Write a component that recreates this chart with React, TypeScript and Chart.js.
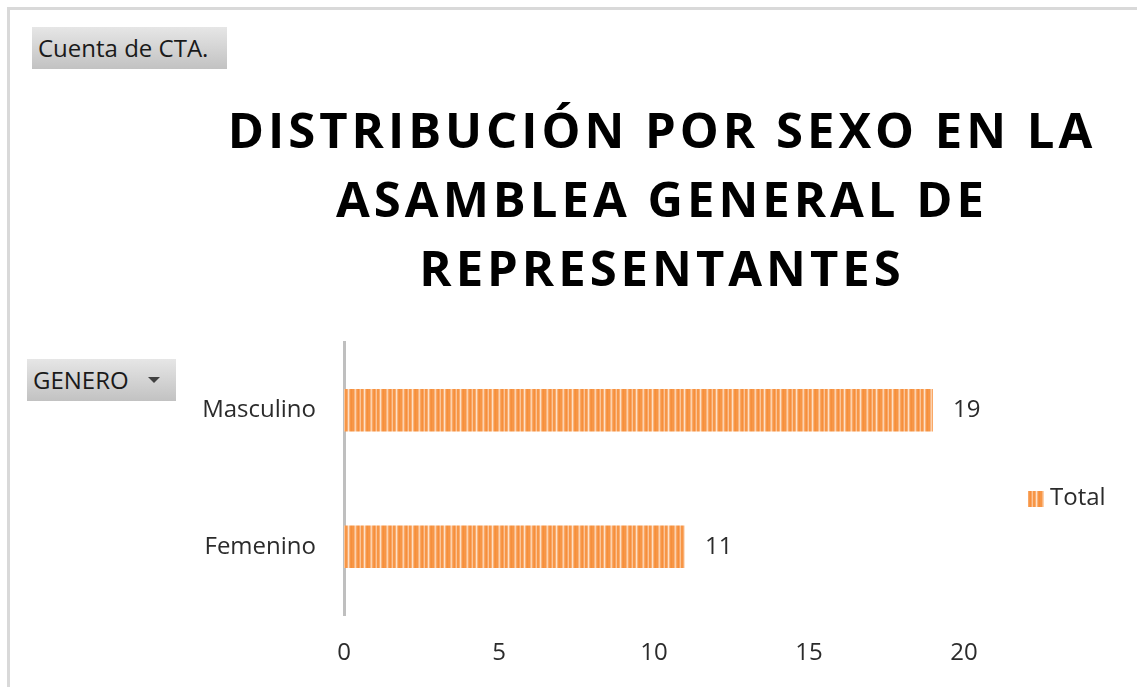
import React, { useEffect, useRef } from "react";
import { Chart, registerables } from "chart.js";

Chart.register(...registerables);

const categories = ["Masculino", "Femenino"];
const totals = [19, 11];
const seriesLabel = "Total";
const xTickValues = [0, 5, 10, 15, 20];
const titleLines = ["DISTRIBUCIÓN POR SEXO EN LA", "ASAMBLEA GENERAL DE", "REPRESENTANTES"];
const pivotValueButton = "Cuenta de CTA.";
const pivotRowButton = "GENERO";

const FONT = '"Open Sans", "Noto Sans", sans-serif';
const TEXT = "#2b2b2b";
const SPACING = 4.0;

function makeStripePattern(): CanvasPattern | string {
  const c = document.createElement("canvas");
  const cols = [
    "#f79646", "#f79646", "#fab57e", "#fcd2ae", "#f9a867", "#f79646",
    "#f68f3b", "#f9a566", "#fbc597", "#f79646", "#f79646", "#f9ad71",
    "#fde1c8", "#f9b47c", "#f79646", "#f68f3b",
  ];
  c.width = cols.length;
  c.height = 4;
  const g = c.getContext("2d");
  if (!g) return "#f79646";
  cols.forEach((col, i) => {
    g.fillStyle = col;
    g.fillRect(i, 0, 1, 4);
  });
  const p = g.createPattern(c, "repeat");
  return p || "#f79646";
}

const titlePlugin = {
  id: "letterSpacedTitle",
  afterDraw(chart: any) {
    const ctx = chart.ctx;
    ctx.save();
    ctx.font = `bold 49px ${FONT}`;
    (ctx as any).letterSpacing = `${SPACING}px`;
    ctx.fillStyle = "#000000";
    ctx.textAlign = "left";
    ctx.textBaseline = "alphabetic";
    const baselines = [148, 217, 286];
    titleLines.forEach((line, i) => {
      const w = ctx.measureText(line).width - SPACING;
      ctx.fillText(line, 660 - w / 2, baselines[i]);
    });
    ctx.restore();
  },
};

const valueLabelPlugin = {
  id: "valueLabels",
  afterDatasetsDraw(chart: any) {
    const ctx = chart.ctx;
    const meta = chart.getDatasetMeta(0);
    ctx.save();
    ctx.font = `24px ${FONT}`;
    ctx.fillStyle = TEXT;
    ctx.textAlign = "left";
    ctx.textBaseline = "middle";
    meta.data.forEach((bar: any, i: number) => {
      const v = chart.data.datasets[0].data[i];
      ctx.fillText(String(v), bar.x + 20, bar.y);
    });
    ctx.restore();
  },
};

const legendPlugin = {
  id: "sideLegend",
  afterDraw(chart: any) {
    const ctx = chart.ctx;
    const ds = chart.data.datasets[0];
    ctx.save();
    ctx.fillStyle = ds.backgroundColor;
    ctx.fillRect(1028, 491, 16, 16);
    ctx.font = `24px ${FONT}`;
    ctx.fillStyle = TEXT;
    ctx.textAlign = "left";
    ctx.textBaseline = "middle";
    ctx.fillText(ds.label, 1050, 498);
    ctx.restore();
  },
};

export default function App() {
  const ref = useRef<HTMLCanvasElement | null>(null);

  useEffect(() => {
    if (!ref.current) return;
    const pattern = makeStripePattern();
    const chart = new Chart(ref.current, {
      type: "bar",
      data: {
        labels: categories,
        datasets: [
          {
            label: seriesLabel,
            data: totals,
            backgroundColor: pattern as any,
            borderWidth: 0,
            categoryPercentage: 1,
            barPercentage: 0.31,
          },
        ],
      },
      options: {
        indexAxis: "y",
        responsive: false,
        animation: false,
        layout: { padding: { top: 342, right: 173, bottom: 0, left: 0 } },
        plugins: {
          legend: { display: false },
          tooltip: { enabled: false },
          title: { display: false },
        },
        scales: {
          x: {
            min: 0,
            max: 20,
            grid: { display: false, drawTicks: false },
            border: { display: false },
            ticks: {
              stepSize: 5,
              font: { family: FONT, size: 24 },
              color: TEXT,
              padding: 24,
            },
            afterBuildTicks: (scale: any) => {
              scale.ticks = xTickValues.map((v) => ({ value: v }));
            },
            afterFit: (scale: any) => {
              scale.height = 72;
            },
          },
          y: {
            grid: { display: false, drawTicks: false },
            border: { display: true, color: "#bfbfbf", width: 3 },
            ticks: {
              font: { family: FONT, size: 24 },
              color: TEXT,
              padding: 28,
            },
            afterFit: (scale: any) => {
              scale.width = 344;
            },
          },
        },
      },
      plugins: [titlePlugin, valueLabelPlugin, legendPlugin],
    });
    return () => chart.destroy();
  }, []);

  const btnBase: React.CSSProperties = {
    position: "fixed",
    boxSizing: "border-box",
    height: 42,
    background: "linear-gradient(#e6e6e6, #c2c2c2)",
    fontFamily: FONT,
    fontSize: 24,
    lineHeight: "42px",
    color: "#1a1a1a",
    paddingLeft: 6,
    whiteSpace: "nowrap",
  };

  return (
    <div>
      <div
        style={{
          position: "fixed",
          left: 7,
          top: 7,
          width: 1140,
          height: 690,
          borderTop: "3px solid #d9d9d9",
          borderLeft: "3px solid #d9d9d9",
        }}
      />
      <canvas
        ref={ref}
        width={1137}
        height={687}
        style={{ position: "fixed", left: 0, top: 0, width: 1137, height: 687 }}
      />
      <div style={{ ...btnBase, left: 32, top: 27, width: 195 }}>{pivotValueButton}</div>
      <div style={{ ...btnBase, left: 27, top: 359, width: 149 }}>
        {pivotRowButton}
        <span
          style={{
            position: "absolute",
            left: 121,
            top: 18,
            width: 0,
            height: 0,
            borderLeft: "6px solid transparent",
            borderRight: "6px solid transparent",
            borderTop: "6px solid #404040",
          }}
        />
      </div>
    </div>
  );
}
